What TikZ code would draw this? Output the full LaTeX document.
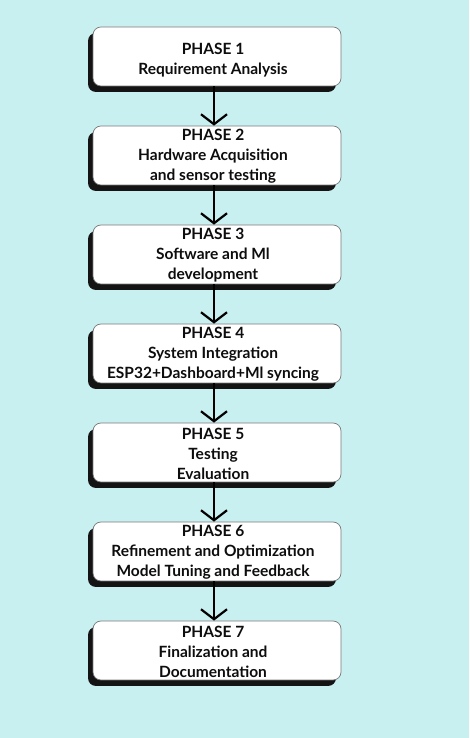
\documentclass[tikz,border=0pt]{standalone}
\usepackage{fontspec}
\setmainfont{Lato}[UprightFont=* Bold]
\usetikzlibrary{arrows.meta,shadows}
\definecolor{bgcyan}{RGB}{201,240,240}
\definecolor{boxedge}{RGB}{120,120,120}
\begin{document}
\begin{tikzpicture}[x=1pt,y=1pt,
  phasebox/.style={draw=boxedge, line width=0.7pt, fill=white, rounded corners=8pt,
    minimum width=248pt, minimum height=59pt, inner sep=0pt,
    drop shadow={opacity=1, fill=black!92, shadow xshift=-5pt, shadow yshift=-6pt}},
  phasetext/.style={align=center, font=\fontsize{15.5}{20}\selectfont, text=black!95, inner sep=0pt},
  flow/.style={line width=2pt, -{Straight Barb[length=10pt, width=26pt, line width=2.2pt]}}]
\useasboundingbox[fill=bgcyan] (0,0) rectangle (469,738);
% box tops at 27 + 99k, height 59 -> centre y (image) = 56.5 + 99k
\foreach \k/\t/\dy in {1/{PHASE 1\\Requirement Analysis}/-4,
                   2/{PHASE 2\\Hardware Acquisition\\and sensor testing}/-1,
                   3/{PHASE 3\\Software and Ml\\development}/-1,
                   4/{PHASE 4\\System Integration\\ESP32+Dashboard+Ml syncing}/-1,
                   5/{PHASE 5\\Testing\\Evaluation}/-1,
                   6/{PHASE 6\\Refinement and Optimization\\Model Tuning and Feedback}/-1,
                   7/{PHASE 7\\Finalization and\\Documentation}/-1}{
  \pgfmathsetmacro{\yc}{738-(56.5+99*(\k-1))}
  \node[phasebox] (b\k) at (217,\yc) {};
  \node[phasetext] (t\k) at (213,\yc+\dy) {\t};
}
\foreach \a/\b in {1/2,2/3,3/4,4/5,5/6,6/7}{
  \draw[flow] ([xshift=1pt]t\a |- b\a.south) -- ([xshift=1pt]t\a |- b\b.north);
}
\end{tikzpicture}
\end{document}
